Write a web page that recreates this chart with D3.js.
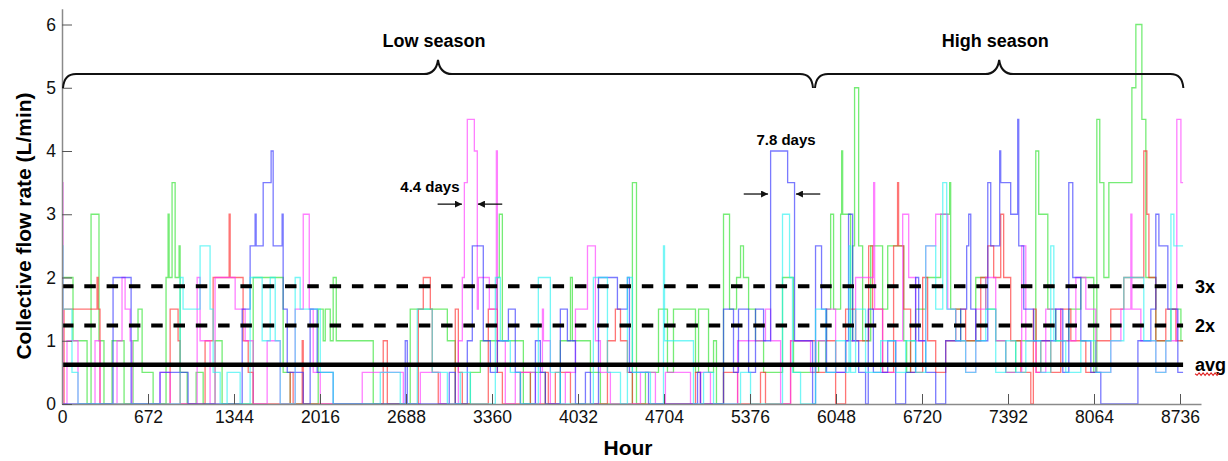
<!DOCTYPE html>
<html>
<head>
<meta charset="utf-8">
<script src="https://cdn.jsdelivr.net/npm/d3@7/dist/d3.min.js"></script>
<style>
  body { margin: 0; background: #fff; }
  svg { display: block; font-family: "Liberation Sans", Arial, sans-serif; }
</style>
</head>
<body>
<div id="chart"></div>
<script>
// step series: [hour, flow L/min], each value holds until the next hour
const greenSteps = [[0,2],[86,1],[196,0],[227,3],[289,1],[328,0],[391,1],[485,0],[555,1],[594,1.5],[626,0.5],[712,0],
  [813,2],[829,3],[837,2],[860,3.5],[884,2],[915,2.5],[923,0.5],[978,0],[1048,0.5],[1103,0],[1196,1],[1251,0],
  [1494,2],[1728,0.5],[1783,0],[2002,1.5],[2041,1],[2057,1.5],[2096,1],[2119,2],[2143,1],[2432,0],[2721,1.5],
  [3011,1],[3073,0],[3191,0.5],[3269,1],[3402,2],[3417,3],[3441,1],[3605,0],[3660,0.5],[3777,0],[3894,1],[3973,2],
  [3988,1],[4129,0.5],[4207,0],[4457,3.5],[4489,0],[4559,0.5],[4661,1.5],[4731,0.5],[4778,1.5],[4950,0.5],[4974,1.5],
  [5052,0.5],[5091,1],[5114,0],[5169,3],[5216,1.5],[5271,2],[5302,2.5],[5325,2],[5365,1.5],[5419,1],[5482,0.5],
  [5630,2],[5716,0.5],[5912,1],[5974,1.5],[6006,3],[6029,1.5],[6084,3],[6092,4],[6100,3],[6162,1],[6178,2.5],
  [6193,5],[6225,2.5],[6256,1],[6319,2.5],[6412,1.5],[6452,2.5],[6577,1],[6600,0.5],[6630,1],[6670,1.5],[6749,2],
  [6866,3],[6936,3.5],[6944,1.5],[7022,1],[7140,2],[7218,1.5],[7296,1],[7374,0.5],[7452,1],[7609,4],[7632,3],
  [7703,1.5],[7765,1],[7867,1.5],[7961,2],[8062,0.5],[8086,4.5],[8109,3.5],[8141,2],[8180,3.5],[8360,5],[8391,6],
  [8438,4.5],[8469,2],[8547,1],[8665,1.5],[8743,1]];

const blueSteps = [[0,0],[399,2],[540,0],[766,0.5],[985,0],[1408,1.5],[1470,2.5],[1509,3],[1517,2.5],[1572,3.5],
  [1634,4],[1650,2.5],[1720,3],[1728,1.5],[1760,0.5],[1885,0],[1939,1.5],[1994,0.5],[2119,0],[2682,1],[2698,0],
  [3026,0.5],[3073,0],[3167,1],[3206,2.5],[3292,1],[3347,0.5],[3402,1],[3488,1.5],[3542,0.5],[3582,0],[3699,1],
  [3738,0.5],[3777,0],[3894,1.5],[3949,1],[4012,0],[4090,0.5],[4129,0],[4192,2],[4340,1.5],[4418,2],[4434,0.5],
  [4583,0],[4966,0.5],[4989,0],[5169,1.5],[5247,0.5],[5286,1.5],[5365,0.5],[5419,1.5],[5482,1],[5537,4],[5670,3.5],
  [5724,1],[5865,0],[5888,2.5],[5935,1.5],[5974,0.5],[6123,1],[6146,3],[6178,1],[6225,0.5],[6279,0],[6300,1.5],
  [6340,0.5],[6397,0.5],[6452,1],[6514,0],[6592,0.5],[6670,2],[6694,1],[6749,0.5],[6827,0],[6905,1],[7022,1.5],
  [7069,2.5],[7085,3],[7101,1.5],[7140,1],[7234,3.5],[7257,2.5],[7327,4],[7335,3.5],[7413,3],[7468,4.5],[7476,2.5],
  [7515,1.5],[7593,1],[7765,1.5],[7820,0.5],[7867,3.5],[7898,2],[7961,1],[8039,0.5],[8117,0],[8407,1],[8508,1.5],
  [8547,3],[8571,2.5],[8641,1.5],[8719,0.5]];

const magentaSteps = [[0,3.5],[8,0],[39,1],[125,0],[258,1],[297,0],[430,1],[469,2],[493,1.5],[532,1],[547,0],
  [766,0.5],[845,0],[1056,2],[1079,1],[1157,0],[1196,2],[1353,1.5],[1431,1],[1494,0],[1603,1],[1705,0],[1822,1.5],
  [1885,3],[1932,1.5],[1963,0.5],[2018,0],[2346,0.5],[2667,0],[2800,0.5],[2956,0],[3097,1],[3128,2],[3144,3.5],
  [3167,4.5],[3222,4],[3245,1.5],[3253,2],[3339,1.5],[3394,4],[3402,1],[3464,0],[3542,0.5],[3699,0],[3738,0.5],
  [3754,1.5],[3762,1],[3816,0],[3933,0.5],[4012,1.5],[4106,2.5],[4168,1],[4207,0.5],[4285,0],[4520,0.5],[4637,0],
  [4715,0.5],[4911,0],[4989,0.5],[5067,0],[5279,1],[5497,1.5],[5537,1],[5615,0],[5693,1],[5849,0.5],[5888,1],
  [5967,1.5],[6045,0.5],[6123,1],[6201,2],[6342,3.5],[6350,1.5],[6412,0.5],[6514,1],[6569,3],[6616,2],[6670,1],
  [6749,2.5],[6827,3],[6921,1.5],[6983,1],[7061,0.5],[7140,1.5],[7218,2],[7296,1],[7374,0.5],[7499,2.5],[7531,1],
  [7609,0.5],[7687,1.5],[7804,1],[7922,2],[8000,1.5],[8078,0.5],[8195,1],[8274,1.5],[8352,3],[8360,1.5],[8430,1],
  [8547,0.5],[8625,1],[8711,4.5],[8743,3.5]];

const redSteps = [[0,0],[16,1.5],[274,2],[282,1.5],[297,0],[845,1.5],[907,1],[923,0],[1118,1],[1181,2],[1306,3],
  [1314,2],[1415,1],[1455,0.5],[1494,0],[1783,0.5],[1806,0],[1877,1],[1885,0],[2510,1],[2542,0],[2784,1.5],[2823,2],
  [2878,1.5],[2893,0.5],[2940,0],[3073,1.5],[3097,0.5],[3128,0],[3331,1.5],[3402,0.5],[3441,0],[3582,0.5],[3660,0],
  [3777,0.5],[3800,0],[3855,0.5],[3973,0],[4262,1],[4324,1.5],[4364,1],[4418,0.5],[4457,0],[4950,0.5],[4989,0],
  [5169,0.5],[5279,0],[5458,0.5],[5497,0],[5693,1],[5888,0.5],[5967,1],[6045,0],[6123,1.5],[6201,1],[6303,2.5],
  [6334,1.5],[6412,0.5],[6498,2.5],[6529,3.5],[6537,2.5],[6577,1.5],[6631,0.5],[6725,2],[6764,1],[6827,0.5],[6905,1],
  [6983,1.5],[7061,1],[7179,2],[7234,2.5],[7280,2],[7335,3],[7358,2],[7413,1],[7492,0.5],[7570,0],[7590,1.5],
  [7612,0.5],[7648,1],[7726,0.5],[7804,1.5],[7883,1],[8000,0.5],[8078,1],[8195,1.5],[8297,2],[8453,4],[8477,3],
  [8493,2],[8547,1],[8625,1.5],[8704,1]];

const cyanSteps = [[0,2.5],[8,1.5],[78,0.5],[125,0],[923,2],[946,1.5],[1079,2.5],[1157,1.5],[1181,0.5],[1236,0],
  [1290,0.5],[1392,0],[1470,2],[1564,1],[1627,2],[1666,1],[1705,0],[1822,2],[1861,1.5],[2018,0.5],[2119,0],
  [2487,0.5],[2643,0],[2776,1.5],[2893,0.5],[3011,0],[3112,0.5],[3191,0],[3386,2],[3425,1],[3503,0.5],[3582,0],
  [3722,2],[3816,0.5],[3894,0],[4152,2],[4262,0.5],[4364,0],[4418,2],[4457,0.5],[4598,0],[4700,2.5],[4708,1],
  [4934,0],[5013,0.5],[5091,0],[5302,0.5],[5380,0],[5630,3],[5685,2],[5708,0.5],[5771,0],[5888,1.5],[5967,0.5],
  [6045,1],[6123,0.5],[6150,2.5],[6162,0.5],[6201,1.5],[6279,0.5],[6397,1],[6514,0.5],[6592,1],[6670,0.5],[6749,2.5],
  [6827,1.5],[6882,3.5],[6913,1.5],[6983,1],[7061,0.5],[7140,1],[7218,1.5],[7296,0.5],[7374,1],[7452,0.5],[7531,1],
  [7648,0.5],[7726,2.5],[7750,1],[7843,0.5],[7961,1],[8078,0.5],[8195,1],[8297,2],[8453,1],[8547,0.5],[8625,1],
  [8665,3],[8688,2.5]];

const lastHour = 8760;
const xTicks = [0, 672, 1344, 2016, 2688, 3360, 4032, 4704, 5376, 6048, 6720, 7392, 8064, 8736];
const yTicks = [0, 1, 2, 3, 4, 5, 6];
const refLevels = [0.62, 1.24, 1.86];
const refNames = ["avg", "2x", "3x"];
const seasonNames = ["Low season", "High season"];
const seasonBounds = [0, 5876, 8770];
const spanNames = ["4.4 days", "7.8 days"];
const spanStart = [3125, 5517];
const spanEnd = [3250, 5735];
const spanLevel = [3.16, 3.32];

const W = 1228, H = 461;

const svg = d3.select("#chart")
  .append("svg")
  .attr("width", W)
  .attr("height", H);

const x = d3.scaleLinear().domain([0, 8900]).range([62, 1201]);
const y = d3.scaleLinear().domain([0, 6.25]).range([404, 8.7]);

// Series
const series = [
  { steps: greenSteps, color: "#22e022" },
  { steps: redSteps, color: "#ff2020" },
  { steps: magentaSteps, color: "#ff30ff" },
  { steps: blueSteps, color: "#2828ff" },
  { steps: cyanSteps, color: "#20f0f0" }
];

const line = d3.line()
  .x(d => x(d[0]))
  .y(d => y(d[1]))
  .curve(d3.curveStepAfter);

svg.append("g")
  .selectAll("path")
  .data(series)
  .enter()
  .append("path")
  .attr("d", s => line(s.steps.concat([[lastHour, s.steps[s.steps.length - 1][1]]])))
  .attr("fill", "none")
  .attr("stroke", s => s.color)
  .attr("stroke-width", 1.3)
  .attr("stroke-opacity", 0.62);

// Reference lines
svg.append("g")
  .selectAll("line")
  .data(refLevels)
  .enter()
  .append("line")
  .attr("x1", x(0))
  .attr("x2", x(lastHour))
  .attr("y1", d => y(d))
  .attr("y2", d => y(d))
  .attr("stroke", "#000")
  .attr("stroke-width", (d, i) => i === 0 ? 4.5 : 4)
  .attr("stroke-dasharray", (d, i) => i === 0 ? null : "11.5,10.8");

svg.append("g")
  .selectAll("text")
  .data(refLevels)
  .enter()
  .append("text")
  .attr("x", x(lastHour) + 12)
  .attr("y", d => y(d))
  .attr("dy", "0.35em")
  .attr("font-size", 18)
  .attr("font-weight", "bold")
  .text((d, i) => refNames[i]);

// spell-check squiggle under "avg"
const sq = d3.path();
const sqY = y(refLevels[0]) + 9;
sq.moveTo(x(lastHour) + 12, sqY);
for (let i = 1; i <= 12; i++) sq.lineTo(x(lastHour) + 12 + i * 2, sqY + (i % 2 ? 1.5 : -1));
svg.append("path").attr("d", sq.toString()).attr("fill", "none").attr("stroke", "#e02020").attr("stroke-width", 1.1);

// Axes
const xAxis = svg.append("g")
  .attr("transform", `translate(0,${y(0)})`)
  .call(d3.axisBottom(x).tickValues(xTicks).tickFormat(d3.format("d"))
    .tickSizeInner(-10).tickSizeOuter(0).tickPadding(7));

const yAxis = svg.append("g")
  .attr("transform", `translate(${x(0)},0)`)
  .call(d3.axisLeft(y).tickValues(yTicks).tickFormat(d3.format("d"))
    .tickSizeInner(-10).tickSizeOuter(0).tickPadding(6));

[xAxis, yAxis].forEach(g => {
  g.select(".domain").attr("stroke", "#8a8a8a").attr("stroke-width", 1.5);
  g.selectAll(".tick line").attr("stroke", "#555").attr("stroke-width", 1);
  g.selectAll(".tick text")
    .attr("font-family", "'Liberation Sans', Arial, sans-serif")
    .attr("font-size", 17.5)
    .attr("fill", "#111");
});

// Axis titles
svg.append("text")
  .attr("transform", `translate(31,226) rotate(-90)`)
  .attr("text-anchor", "middle")
  .attr("font-size", 21)
  .attr("font-weight", "bold")
  .text("Collective flow rate (L/min)");

svg.append("text")
  .attr("x", 628)
  .attr("y", 455)
  .attr("text-anchor", "middle")
  .attr("font-size", 21)
  .attr("font-weight", "bold")
  .text("Hour");

// Season braces
const braceBase = 88, braceBar = 74, braceTip = 60;
function brace(x0, x1) {
  const m = (x0 + x1) / 2, r = 14;
  const p = d3.path();
  p.moveTo(x0 + 1, braceBase);
  p.quadraticCurveTo(x0 + 2, braceBar, x0 + r, braceBar);
  p.lineTo(m - r, braceBar);
  p.quadraticCurveTo(m - 2, braceBar, m, braceTip);
  p.quadraticCurveTo(m + 2, braceBar, m + r, braceBar);
  p.lineTo(x1 - r, braceBar);
  p.quadraticCurveTo(x1 - 2, braceBar, x1 - 1, braceBase);
  return p.toString();
}

seasonNames.forEach((name, i) => {
  const x0 = x(seasonBounds[i]), x1 = x(seasonBounds[i + 1]);
  svg.append("path")
    .attr("d", brace(x0, x1))
    .attr("fill", "none")
    .attr("stroke", "#111")
    .attr("stroke-width", 2);
  svg.append("text")
    .attr("x", (x0 + x1) / 2 - 4)
    .attr("y", 47)
    .attr("text-anchor", "middle")
    .attr("font-size", 18)
    .attr("font-weight", "bold")
    .text(name);
});

// Duration annotations
svg.append("defs").append("marker")
  .attr("id", "ah")
  .attr("viewBox", "0 0 10 10")
  .attr("refX", 10).attr("refY", 5)
  .attr("markerWidth", 7).attr("markerHeight", 7)
  .attr("markerUnits", "userSpaceOnUse")
  .attr("orient", "auto")
  .append("path").attr("d", "M0,0L10,5L0,10z").attr("fill", "#111");

const arrowLen = 190;
spanNames.forEach((name, i) => {
  const ya = y(spanLevel[i]);
  svg.append("line")
    .attr("x1", x(spanStart[i] - arrowLen)).attr("x2", x(spanStart[i]))
    .attr("y1", ya).attr("y2", ya)
    .attr("stroke", "#111").attr("stroke-width", 1.3).attr("marker-end", "url(#ah)");
  svg.append("line")
    .attr("x1", x(spanEnd[i] + arrowLen)).attr("x2", x(spanEnd[i]))
    .attr("y1", ya).attr("y2", ya)
    .attr("stroke", "#111").attr("stroke-width", 1.3).attr("marker-end", "url(#ah)");
});

svg.append("text")
  .attr("x", x(spanStart[0]) - 32).attr("y", y(spanLevel[0]) - 12)
  .attr("text-anchor", "middle").attr("font-size", 15).attr("font-weight", "bold")
  .text(spanNames[0]);
svg.append("text")
  .attr("x", x((spanStart[1] + spanEnd[1]) / 2) + 4).attr("y", y(spanLevel[1]) - 49)
  .attr("text-anchor", "middle").attr("font-size", 15).attr("font-weight", "bold")
  .text(spanNames[1]);
</script>
</body>
</html>
